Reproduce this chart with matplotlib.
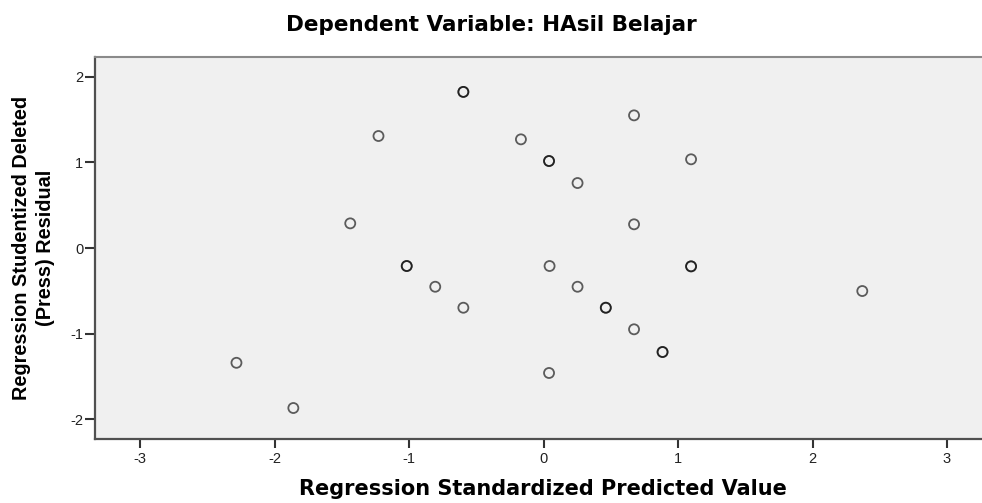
import matplotlib
matplotlib.use("Agg")
from matplotlib import pyplot as plt

plt.rcParams["axes.unicode_minus"] = False

# Scatterplot values (duplicated points appear twice)
PRED = [-0.596, -0.596, 0.673, -1.227, -0.168, 0.041, 0.041, 1.097, 0.253,
        -1.437, 0.673, -1.017, -1.017, 0.045, 1.097, 1.097, -0.805, 0.253,
        2.370, -0.596, 0.463, 0.463, 0.673, 0.885, 0.885, -2.283, 0.041, -1.860]
RESID = [1.823, 1.823, 1.549, 1.308, 1.269, 1.016, 1.016, 1.036, 0.759,
         0.288, 0.277, -0.210, -0.210, -0.210, -0.214, -0.214, -0.452, -0.452,
         -0.502, -0.697, -0.697, -0.697, -0.949, -1.214, -1.214, -1.340, -1.459, -1.868]
X_TICKS = [-3, -2, -1, 0, 1, 2, 3]
Y_TICKS = [-2, -1, 0, 1, 2]

fig = plt.figure(figsize=(9.82, 5.03), dpi=100)
ax = fig.add_axes([0.0967, 0.1272, 0.9033, 0.7594])
ax.set_facecolor("#F0F0F0")

ax.scatter(PRED, RESID, s=52, facecolors="none",
           edgecolors=[(0, 0, 0, 0.62)], linewidths=1.3, zorder=3)

ax.set_xlim(-3.335, 3.26)
ax.set_ylim(-2.23, 2.23)
ax.set_xticks(X_TICKS)
ax.set_yticks(Y_TICKS)

ax.spines["right"].set_visible(False)
ax.spines["top"].set_color("#8a8a8a")
ax.spines["top"].set_linewidth(1.5)
for side in ["left", "bottom"]:
    ax.spines[side].set_color("#505050")
    ax.spines[side].set_linewidth(1.6)

ax.tick_params(axis="x", length=6.5, width=1.5, color="#333333", pad=3,
               labelsize=10.5, labelcolor="#222222")
ax.tick_params(axis="y", length=7, width=1.5, color="#333333", pad=1.5,
               labelsize=10.5, labelcolor="#222222")
for lbl in ax.get_xticklabels() + ax.get_yticklabels():
    lbl.set_family("Liberation Sans")

fig.text(0.5, 1 - 31 / 503, "Dependent Variable: HAsil Belajar", ha="center",
         va="baseline", family="DejaVu Sans", weight="bold", fontsize=15.5)
fig.text(543 / 982, 1 - 495 / 503, "Regression Standardized Predicted Value",
         ha="center", va="baseline", family="DejaVu Sans", weight="bold",
         fontsize=15)
ax.set_ylabel("Regression Studentized Deleted\n(Press) Residual",
              family="Liberation Sans", weight="bold", fontsize=14.3,
              linespacing=1.3, labelpad=11)

fig.savefig("out.png", dpi=100)
